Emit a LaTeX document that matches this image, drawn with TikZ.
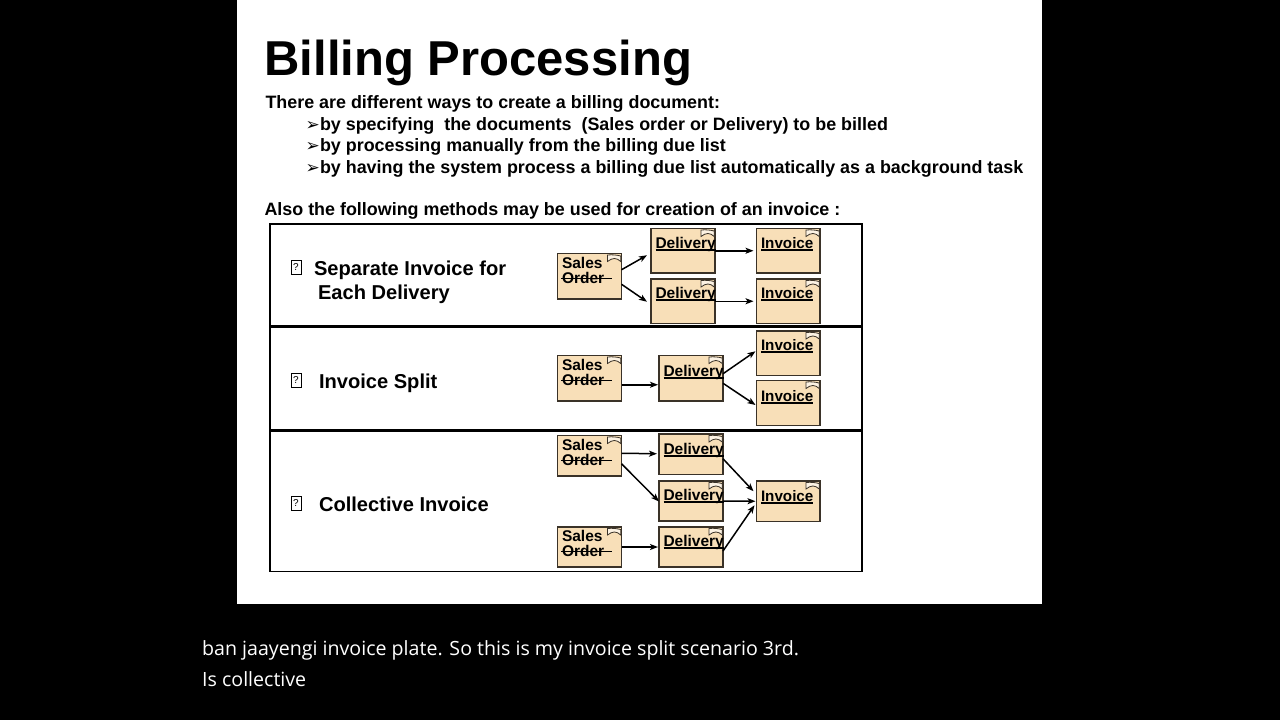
\documentclass[tikz,border=0pt]{standalone}
\usepackage{fontspec}
\setmainfont{Liberation Sans}
\newfontfamily\capfont{Open Sans}
\newfontfamily\symfont{DejaVu Sans}
\usetikzlibrary{arrows.meta}
\definecolor{docfill}{HTML}{F8DFB8}
\definecolor{docline}{HTML}{3A3228}
\tikzset{
  txt/.style={anchor=base west,inner sep=0pt,outer sep=0pt,text=black,font=\bfseries},
  doc/.style={draw=docline,line width=1.3pt,fill=docfill,inner sep=0pt,outer sep=0pt},
  frame/.style={draw=black,line width=1.6pt,fill=white,inner sep=0pt,outer sep=0pt},
  link/.style={draw=black,line width=1.5pt,-{Stealth[length=8pt,width=6pt,inset=2pt]}},
  flag/.style={draw=docline,line width=.8pt,fill=docfill!40!white},
  tofu/.style={draw=black,line width=.6pt,fill=white,inner sep=0pt,minimum width=10pt,minimum height=14pt,text=black,font=\fontsize{10}{10}\selectfont}
}
\newcommand{\boxsize}[2]{\fontsize{#1}{#2}\selectfont}
\newcommand{\lowline}[1]{\setbox0=\hbox{#1}\rlap{\rule[-2.6pt]{\wd0}{1.3pt}}\box0}
\newcommand{\docbox}[6]{% name x1 y1 x2 y2 label
  \node[doc,minimum width=#4pt-#2pt,minimum height=#5pt-#3pt] (#1) at ({(#2+#4)/2},{(#3+#5)/2}) {};
  \path[flag] ({#4-14},{#3+1.5}) .. controls ({#4-9},{#3+1}) and ({#4-5},{#3+1.5}) .. ({#4-.8},{#3+2.5}) -- ({#4-.8},{#3+8}) .. controls ({#4-5},{#3+4}) and ({#4-9},{#3+4}) .. ({#4-14},{#3+8}) -- cycle;
  #6}
\newcommand{\deliv}[3]{\node[txt,font=\bfseries\boxsize{15.5}{16}] (#1t) at (#2,#3) {\lowline{Delivery}};}
\newcommand{\invo}[3]{\node[txt,font=\bfseries\boxsize{15.2}{16}] (#1t) at (#2,#3) {\lowline{Invoice}};}
\newcommand{\salesorder}[3]{%
  \node[txt,font=\bfseries\boxsize{15.5}{16}] (#1a) at (#2,#3) {Sales};
  \node[txt,font=\bfseries\boxsize{15.5}{16}] (#1b) at (#2,#3+15) {Order\rlap{\kern-43pt\rule[4.2pt]{51pt}{1.2pt}}};}
\begin{document}
\begin{tikzpicture}[x=1pt,y=-1pt]
\useasboundingbox (0,0) rectangle (1280,720);
\fill[black] (0,0) rectangle (1280,720);
\fill[white] (237,0) rectangle (1042,604);
\node[txt,font=\bfseries\boxsize{49}{50}] (title) at (264.5,75) {Billing Processing};
\node[txt,font=\bfseries\boxsize{17.9}{18}] (l1) at (265.5,108) {There are different ways to create a billing document:};
\node[txt,font=\boxsize{17}{17}\symfont] (b1) at (305.5,130) {➢};
\node[txt,font=\bfseries\boxsize{17.9}{18}] (l2) at (320,130) {by specifying\ \ the documents\ \ (Sales order or Delivery) to be billed};
\node[txt,font=\boxsize{17}{17}\symfont] (b2) at (305.5,151.5) {➢};
\node[txt,font=\bfseries\boxsize{17.9}{18}] (l3) at (320,151.5) {by processing manually from the billing due list};
\node[txt,font=\boxsize{17}{17}\symfont] (b3) at (305.5,173) {➢};
\node[txt,font=\bfseries\boxsize{17.9}{18}] (l4) at (320,173) {by having the system process a billing due list automatically as a background task};
\node[txt,font=\bfseries\boxsize{17.9}{18}] (l5) at (264.5,215) {Also the following methods may be used for creation of an invoice :};
% frames
\node[frame,minimum width=592pt,minimum height=102.5pt] (f1) at (566,275.2) {};
\node[frame,minimum width=592pt,minimum height=103pt] (f2) at (566,378.5) {};
\node[frame,minimum width=592pt,minimum height=141pt] (f3) at (566,501) {};
\draw[line width=3pt,black] (f1.south west) -- (f1.south east);
\draw[line width=3pt,black] (f2.south west) -- (f2.south east);
% left labels
\node[tofu] (q1) at (296,267.5) {?};
\node[txt,font=\bfseries\boxsize{20.1}{20}] (n1a) at (314,275) {Separate Invoice for};
\node[txt,font=\bfseries\boxsize{20.1}{20}] (n1b) at (318,299) {Each Delivery};
\node[tofu] (q2) at (296,380.5) {?};
\node[txt,font=\bfseries\boxsize{20.1}{20}] (n2) at (319,388) {Invoice Split};
\node[tofu] (q3) at (296,503.5) {?};
\node[txt,font=\bfseries\boxsize{20.1}{20}] (n3) at (319,511) {Collective Invoice};
% row 1
\docbox{s1}{557.5}{253.5}{621.5}{299}{\salesorder{s1}{562}{268}}
\docbox{d1}{651}{228.5}{715}{273}{\deliv{d1}{655.5}{248}}
\docbox{i1}{756.5}{228.5}{820}{273}{\invo{i1}{761}{248}}
\docbox{d2}{651}{279}{715}{323.5}{\deliv{d2}{655.5}{298}}
\docbox{i2}{756.5}{279}{820}{323.5}{\invo{i2}{761}{298}}
% row 2
\docbox{s2}{557.5}{355.5}{621.5}{401}{\salesorder{s2}{562}{370}}
\docbox{d3}{659}{355.5}{723}{401}{\deliv{d3}{663.5}{376}}
\docbox{i3}{756.5}{331}{820}{375.5}{\invo{i3}{761}{350}}
\docbox{i4}{756.5}{380.5}{820}{425.5}{\invo{i4}{761}{401}}
% row 3
\docbox{s3}{557.5}{435.5}{621.5}{476}{\salesorder{s3}{562}{450}}
\docbox{d4}{659}{434}{723}{474.5}{\deliv{d4}{663.5}{454}}
\docbox{d5}{659}{481}{723}{521}{\deliv{d5}{663.5}{500}}
\docbox{d6}{659}{527}{723}{567}{\deliv{d6}{663.5}{546}}
\docbox{i5}{756.5}{481}{820}{521.5}{\invo{i5}{761}{501}}
\docbox{s4}{557.5}{527}{621.5}{567}{\salesorder{s4}{562}{541}}
% connectors
\draw[link] ([yshift=6.5pt]s1.east) -- ([xshift=-4pt,yshift=-4.5pt]d1.west);
\draw[link] ([yshift=-8pt]s1.east) -- ([xshift=-4pt,yshift=-.5pt]d2.west);
\draw[link] (d1.east) -- ([xshift=-3pt]i1.west);
\draw[link] (d2.east) -- ([xshift=-3pt]i2.west);
\draw[link] ([yshift=-6.5pt]s2.east) -- ([xshift=-1pt,yshift=-6.5pt]d3.west);
\draw[link] ([yshift=4.5pt]d3.east) -- ([xshift=-1pt,yshift=2pt]i3.west);
\draw[link] ([yshift=-5pt]d3.east) -- ([xshift=-1pt,yshift=-2pt]i4.west);
\draw[link] ([yshift=2.5pt]s3.east) -- ([xshift=-2pt,yshift=.5pt]d4.west);
\draw[link] ([yshift=-8pt]s3.east) -- ([xshift=0pt,yshift=-.5pt]d5.west);
\draw[link] ([yshift=-4.5pt]d4.east) -- ([xshift=-3pt,yshift=10pt]i5.west);
\draw[link] (d5.east) -- ([xshift=-1pt]i5.west);
\draw[link] ([yshift=-4pt]d6.east) -- ([xshift=-2pt,yshift=-4pt]i5.west);
\draw[link] (s4.east) -- ([xshift=-1pt]d6.west);
% caption
\node[anchor=base west,inner sep=0pt,text=white,font=\capfont\boxsize{19.6}{20}] (c1) at (202,655) {ban jaayengi invoice plate. So this is my invoice split scenario 3rd.};
\node[anchor=base west,inner sep=0pt,text=white,font=\capfont\boxsize{19.6}{20}] (c2) at (202,686) {Is collective};
\end{tikzpicture}
\end{document}
